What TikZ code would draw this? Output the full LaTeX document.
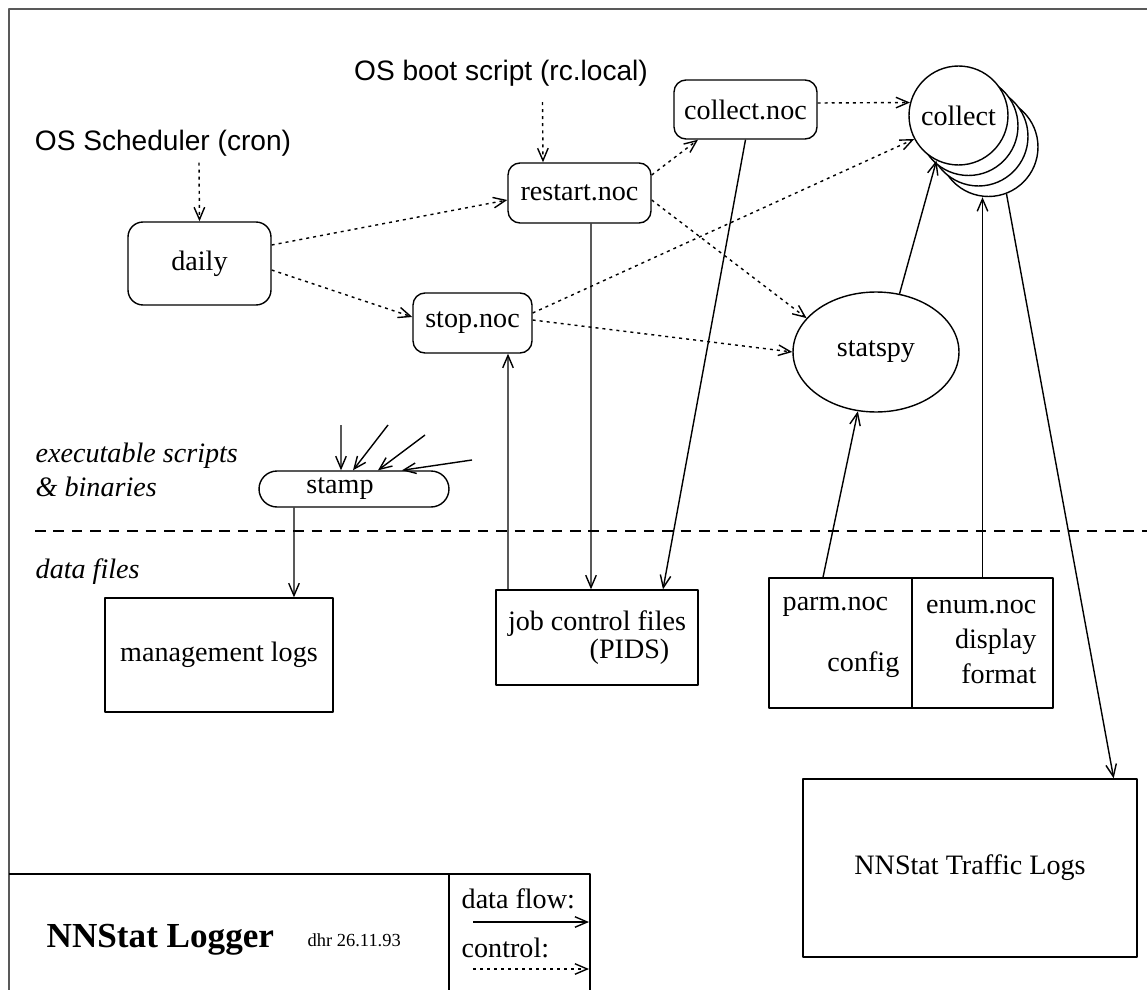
\documentclass[tikz,border=0pt]{standalone}
\usepackage{fontspec}
\setmainfont{Liberation Serif}
\setsansfont{Liberation Sans}
\usetikzlibrary{arrows.meta,shapes.geometric}

\begin{document}
\begin{tikzpicture}[x=0.02cm,y=-0.02cm,line join=round,line width=0.8pt,
    every node/.style={font=\fontsize{16}{19}\selectfont},
    prog/.style={draw,rounded corners=0.24cm,inner sep=0pt},
    file/.style={draw,inner sep=0pt},
    proc/.style={draw,fill=white,circle,minimum size=1.98cm,inner sep=0pt},
    flow/.style={-{Straight Barb[length=7pt,width=6pt]}},
    ctrl/.style={flow,dash pattern=on 1.7pt off 2.3pt},
    os/.style={font=\sffamily\fontsize{16}{19}\selectfont},
    side/.style={inner sep=0pt,align=left,font=\itshape\fontsize{16}{19.3}\selectfont}]
    \useasboundingbox (0,0) rectangle (1147,990);
    \fill[white] (0,0) rectangle (1147,990);
    \draw[gray!70!black,line width=1.1pt] (9,990) -- (9,9) -- (1147,9);

    % who starts the scripts
    \node[os] (cron) at (163,143) {OS Scheduler (cron)};
    \node[os] (boot) at (501,73) {OS boot script (rc.local)};

    % scripts and binaries
    \node[prog,minimum width=2.86cm,minimum height=1.66cm,rounded corners=0.3cm] (daily) at (199.5,263.5) {daily};
    \node[prog,minimum width=2.86cm,minimum height=1.2cm] (restart) at (579.5,193) {restart.noc};
    \node[prog,minimum width=2.38cm,minimum height=1.2cm] (stop) at (472.5,323) {stop.noc};
    \node[prog,minimum width=2.86cm,minimum height=1.18cm] (cnoc) at (745.5,109.5) {collect.noc};
    \node[prog,minimum width=3.8cm,minimum height=0.72cm,rounded corners=0.36cm] (stamp) at (354,489) {stamp\hspace*{0.56cm}};
    \node[draw,ellipse,minimum width=3.32cm,minimum height=2.4cm,inner sep=0pt] (statspy) at (876,352) {statspy};
    \node[proc] (c3) at (988.5,147) {};
    \node[proc] (c2) at (978.5,136.5) {};
    \node[proc] (c1) at (968.5,126) {};
    \node[proc] (c0) at (958.5,115.5) {collect};

    % level labels
    \node[side,anchor=west] (exec) at (35,470) {executable scripts\\\& binaries};
    \node[side,anchor=west] (data) at (35,572) {data files};
    \draw[dash pattern=on 6pt off 4.5pt] (35,531) -- (1147,531);

    % data files
    \node[file,minimum width=4.56cm,minimum height=2.28cm] (mgmt) at (219,655) {management logs};
    \node[file,minimum width=4.04cm,minimum height=1.9cm,align=center,font=\fontsize{16}{16}\selectfont] (job) at (597,637.5) {job control files\\\hspace*{1.3cm}(PIDS)};
    \node[file,minimum width=2.86cm,minimum height=2.6cm] (parm) at (840.5,643) {};
    \node[file,minimum width=2.82cm,minimum height=2.6cm] (enum) at (982.5,643) {};
    \node[inner sep=0pt,anchor=west] (parmname) at (782,607) {parm.noc};
    \node[inner sep=0pt,anchor=east] (parmconf) at (900,665) {config};
    \node[inner sep=0pt,anchor=east,align=right,font=\fontsize{16}{19.8}\selectfont] (enumtext) at (1037,642) {enum.noc\\display\\format};
    \node[file,minimum width=6.68cm,minimum height=3.56cm] (traffic) at (970,868) {NNStat Traffic Logs};

    % control
    \draw[ctrl] ([xshift=0.72cm]cron.south) -- (daily.north);
    \draw[ctrl] ([xshift=0.83cm,yshift=-0.19cm]boot.south) -- ([xshift=-0.73cm]restart.north);
    \draw[ctrl] ([yshift=0.37cm]daily.east) -- ([yshift=-0.14cm]restart.west);
    \draw[ctrl] ([yshift=-0.13cm]daily.east) -- ([yshift=0.12cm]stop.west);
    \draw[ctrl] ([yshift=0.36cm]restart.east) -- ([xshift=-0.95cm]cnoc.south);
    \draw[ctrl] ([yshift=-0.14cm]restart.east) -- (statspy.154);
    \draw[ctrl] ([yshift=0.2cm]stop.east) -- (c0.208);
    \draw[ctrl] ([yshift=0.06cm]stop.east) -- (statspy.west);
    \draw[ctrl] ([yshift=0.13cm]cnoc.east) -- (c0.165);

    % data flow
    \draw[flow] (statspy.68) -- (c0.244);
    \draw[flow] (enum.north) -- (enum.north |- c3.south);
    \draw[flow] (c3.291) -- ([xshift=-0.48cm]traffic.north east);
    \draw[flow] ([xshift=-0.35cm]parm.north) -- (statspy.253);
    \draw[flow] ([xshift=0.23cm]restart.south) -- ([xshift=-0.12cm]job.north);
    \draw[flow] (cnoc.south) -- ([xshift=1.32cm]job.north);
    \draw[flow] ([xshift=-1.78cm]job.north) -- ([xshift=0.71cm]stop.south);
    \draw[flow] ([xshift=-1.2cm]stamp.south) -- ([xshift=1.5cm]mgmt.north);
    \coordinate (in1) at (341,425);
    \coordinate (in2) at (388,425);
    \coordinate (in3) at (425,435);
    \coordinate (in4) at (472,460);
    \foreach \i/\dx in {1/-0.26,2/-0.02,3/0.48,4/0.96}
    \draw[flow] (in\i) -- ([xshift=\dx cm]stamp.north);

    % title block and key
    \draw (9,874) -| (590,995);
    \draw (449,874) -- (449,995);
    \node[inner sep=0pt,anchor=base west,font=\bfseries\fontsize{20}{24}\selectfont] (title) at (46,947) {NNStat Logger};
    \node[inner sep=0pt,anchor=base west,font=\fontsize{10.5}{12}\selectfont] (date) at (307,946) {dhr 26.11.93};
    \node[inner sep=0pt,anchor=base west] (flowkey) at (461,908) {data flow:};
    \node[inner sep=0pt,anchor=base west] (ctrlkey) at (461,957) {control:};
    \draw[flow] (473,922) -- (589,922);
    \draw[ctrl] (473,969) -- (589,969);
\end{tikzpicture}
\end{document}
